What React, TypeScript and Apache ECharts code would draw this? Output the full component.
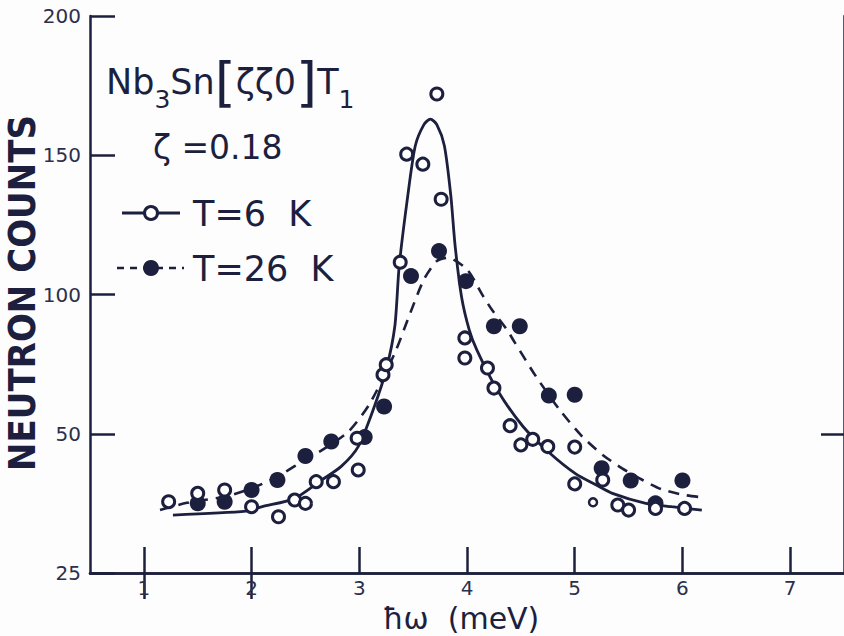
import React, { useEffect, useRef } from "react";
import * as echarts from "echarts";

// ---- data (energy in meV, neutron counts) ----
const t6Energy = [1.23, 1.5, 1.75, 2.0, 2.25, 2.4, 2.5, 2.6, 2.76, 2.99, 2.98, 3.22, 3.25, 3.38, 3.44, 3.59, 3.72, 3.76, 3.98, 3.98, 4.19, 4.25, 4.4, 4.5, 4.61, 4.75, 5.0, 5.0, 5.17, 5.26, 5.4, 5.5, 5.75, 6.02];
const t6Counts = [37.8, 39.3, 39.9, 36.9, 35.1, 38.1, 37.5, 41.4, 41.4, 43.5, 49.2, 71.2, 74.8, 111.6, 150.4, 146.8, 172, 134.2, 84.4, 77.2, 73.6, 66.4, 52.9, 48, 49, 47.7, 47.6, 41, 37.7, 41.7, 37.2, 36.3, 36.6, 36.6];
const t6SmallPointIndex = 28;

const t26Energy = [1.5, 1.75, 2.0, 2.24, 2.5, 2.74, 3.05, 3.23, 3.48, 3.74, 3.99, 4.25, 4.49, 4.76, 5.0, 5.25, 5.52, 5.75, 6.0];
const t26Counts = [37.5, 37.8, 39.9, 41.7, 46, 48.6, 49.4, 59.8, 106.6, 115.6, 104.8, 88.6, 88.6, 63.7, 64, 43.8, 41.6, 37.5, 41.6];

const fit6Energy = [1.27, 1.95, 2.1, 2.4, 2.65, 2.83, 2.99, 3.14, 3.25, 3.33, 3.37, 3.45, 3.52, 3.6, 3.66, 3.72, 3.79, 3.85, 3.89, 3.95, 4.02, 4.09, 4.28, 4.52, 4.77, 5.01, 5.2, 5.35, 5.66, 5.9, 6.18];
const fit6Counts = [35.4, 36.1, 36.9, 38.4, 41.7, 44.1, 47.7, 59.8, 73, 88.6, 110, 135.4, 153.4, 161, 163, 161, 153.4, 135.4, 117.4, 99, 87.4, 80.2, 65.8, 52.6, 46.5, 42.8, 40.8, 39.3, 37.5, 36.9, 36.3];

const fit26Energy = [1.15, 1.4, 1.75, 2.0, 2.25, 2.5, 2.65, 2.9, 3.1, 3.33, 3.45, 3.6, 3.72, 3.82, 4.0, 4.15, 4.23, 4.37, 4.44, 4.64, 4.86, 5.07, 5.26, 5.44, 5.63, 5.81, 6.02, 6.18];
const fit26Counts = [36.3, 37.6, 38.7, 40.2, 42.4, 45.4, 47, 50.8, 61, 79, 91, 105.4, 112, 113.2, 109, 99.4, 94.6, 87.4, 83, 70.6, 58.6, 49.5, 46.2, 43.8, 41.7, 40, 39, 38.6];

const xTicks = [1, 2, 3, 4, 5, 6, 7];
const yTickLabels = [25, 50, 100, 150, 200];
const topTicks = [1, 2];

const INK = "#1c1f3d";
const LABEL_INK = "#2c2f4c";

// The printed axis is broken below 50: the 25..50 span occupies the same length as 0..50 would.
const toAxis = (v: number) => (v >= 50 ? v : 2 * (v - 25));
const fromAxis = (d: number) => (d >= 50 ? d : 25 + d / 2);

const pairs = (xs: number[], ys: number[]) => xs.map((x, i) => [x, toAxis(ys[i])]);

export default function App() {
  const ref = useRef<HTMLDivElement>(null);
  useEffect(() => {
    if (!ref.current) return;
    const chart = echarts.init(ref.current, undefined, { renderer: "svg" });
    const tickFont = { fontSize: 20, color: LABEL_INK, fontFamily: "DejaVu Sans" };

    const openData = pairs(t6Energy, t6Counts).map((p, i) =>
      i === t6SmallPointIndex ? { value: p, symbolSize: 8, itemStyle: { borderWidth: 2.5 } } : p
    );

    chart.setOption({
      animation: false,
      backgroundColor: "#fdfdfd",
      grid: { left: 90, top: 16, right: -6, bottom: 63 },
      xAxis: [
        {
          type: "value",
          min: 0.5,
          max: 7.5,
          position: "bottom",
          axisLine: { lineStyle: { color: INK, width: 2.5 } },
          axisTick: { inside: true, length: 26, customValues: xTicks, lineStyle: { color: INK, width: 2.5 } },
          axisLabel: { customValues: xTicks, margin: 5, lineHeight: 19, ...tickFont },
          splitLine: { show: false },
        },
        {
          type: "value",
          min: 0.5,
          max: 7.5,
          position: "top",
          axisLine: { lineStyle: { color: INK, width: 2.5 } },
          axisTick: { inside: true, length: 26, customValues: topTicks, lineStyle: { color: INK, width: 2.5 } },
          axisLabel: { show: false },
          splitLine: { show: false },
        },
      ],
      yAxis: [
        {
          type: "value",
          min: 0,
          max: 200,
          position: "left",
          axisLine: { lineStyle: { color: INK, width: 2.5 } },
          axisTick: { inside: true, length: 25, customValues: yTickLabels.map(toAxis), lineStyle: { color: INK, width: 2.5 } },
          axisLabel: {
            customValues: yTickLabels.map(toAxis),
            formatter: (d: number) => String(Math.round(fromAxis(d))),
            margin: 9,
            ...tickFont,
          },
          splitLine: { show: false },
        },
        {
          type: "value",
          min: 0,
          max: 200,
          position: "right",
          axisLine: { lineStyle: { color: INK, width: 2.5 } },
          axisTick: { inside: true, length: 23, customValues: [toAxis(50)], lineStyle: { color: INK, width: 2.5 } },
          axisLabel: { show: false },
          splitLine: { show: false },
        },
      ],
      series: [
        {
          name: "fit T=6 K",
          type: "line",
          data: pairs(fit6Energy, fit6Counts),
          smooth: 0.25,
          showSymbol: false,
          lineStyle: { color: INK, width: 2.8 },
          z: 2,
        },
        {
          name: "fit T=26 K",
          type: "line",
          data: pairs(fit26Energy, fit26Counts),
          smooth: 0.25,
          showSymbol: false,
          lineStyle: { color: INK, width: 2.6, type: [11, 8] },
          z: 2,
        },
        {
          name: "T=26 K",
          type: "scatter",
          data: pairs(t26Energy, t26Counts),
          symbol: "circle",
          symbolSize: 16,
          itemStyle: { color: INK, opacity: 1 },
          z: 3,
        },
        {
          name: "T=6 K",
          type: "scatter",
          data: openData,
          symbol: "circle",
          symbolSize: 12,
          itemStyle: { color: "#ffffff", borderColor: INK, borderWidth: 3, opacity: 1 },
          z: 4,
        },
      ],
      graphic: [
        {
          type: "text",
          x: 22,
          y: 293,
          rotation: Math.PI / 2,
          scaleX: 0.92,
          style: {
            text: "NEUTRON COUNTS",
            fill: INK,
            font: 'bold 37px "DejaVu Sans"',
            align: "center",
            verticalAlign: "middle",
          },
        },
        {
          type: "text",
          x: 461,
          y: 618,
          style: {
            text: "ħω  (meV)",
            fill: INK,
            font: '30px "DejaVu Sans"',
            lineHeight: 28,
            align: "center",
            verticalAlign: "middle",
          },
        },
        {
          type: "text",
          x: 106,
          y: 82,
          style: {
            text: "{a|Nb}{s|3}{a|Sn}{b|[}{a|ζζ0}{b|]}{a|T}{s|1}",
            fill: INK,
            align: "left",
            verticalAlign: "middle",
            rich: {
              a: { fontSize: 35, fontFamily: "DejaVu Sans", lineHeight: 60, verticalAlign: "middle", fill: INK },
              s: { fontSize: 25, fontFamily: "DejaVu Sans", lineHeight: 26, verticalAlign: "bottom", fill: INK },
              b: { fontSize: 54, fontFamily: "DejaVu Sans", lineHeight: 60, verticalAlign: "middle", fill: INK },
            },
          },
        },
        {
          type: "text",
          x: 153,
          y: 147,
          style: {
            text: "ζ =0.18",
            fill: INK,
            font: '33px "DejaVu Sans"',
            align: "left",
            verticalAlign: "middle",
          },
        },
        {
          type: "line",
          shape: { x1: 122, y1: 213, x2: 180, y2: 213 },
          style: { stroke: INK, lineWidth: 3 },
        },
        {
          type: "circle",
          shape: { cx: 151, cy: 213, r: 6.5 },
          style: { fill: "#ffffff", stroke: INK, lineWidth: 3 },
        },
        {
          type: "text",
          x: 193,
          y: 214,
          style: { text: "T=6  K", fill: INK, font: '35px "DejaVu Sans"', align: "left", verticalAlign: "middle" },
        },
        {
          type: "line",
          shape: { x1: 117, y1: 268, x2: 184, y2: 268 },
          style: { stroke: INK, lineWidth: 2.5, lineDash: [7, 6] },
        },
        {
          type: "circle",
          shape: { cx: 151, cy: 268, r: 8 },
          style: { fill: INK },
        },
        {
          type: "text",
          x: 193,
          y: 269,
          style: { text: "T=26  K", fill: INK, font: '35px "DejaVu Sans"', align: "left", verticalAlign: "middle" },
        },
      ],
    });
    return () => chart.dispose();
  }, []);
  return <div ref={ref} style={{ position: "fixed", left: 0, top: 0, width: 844, height: 636 }} />;
}
